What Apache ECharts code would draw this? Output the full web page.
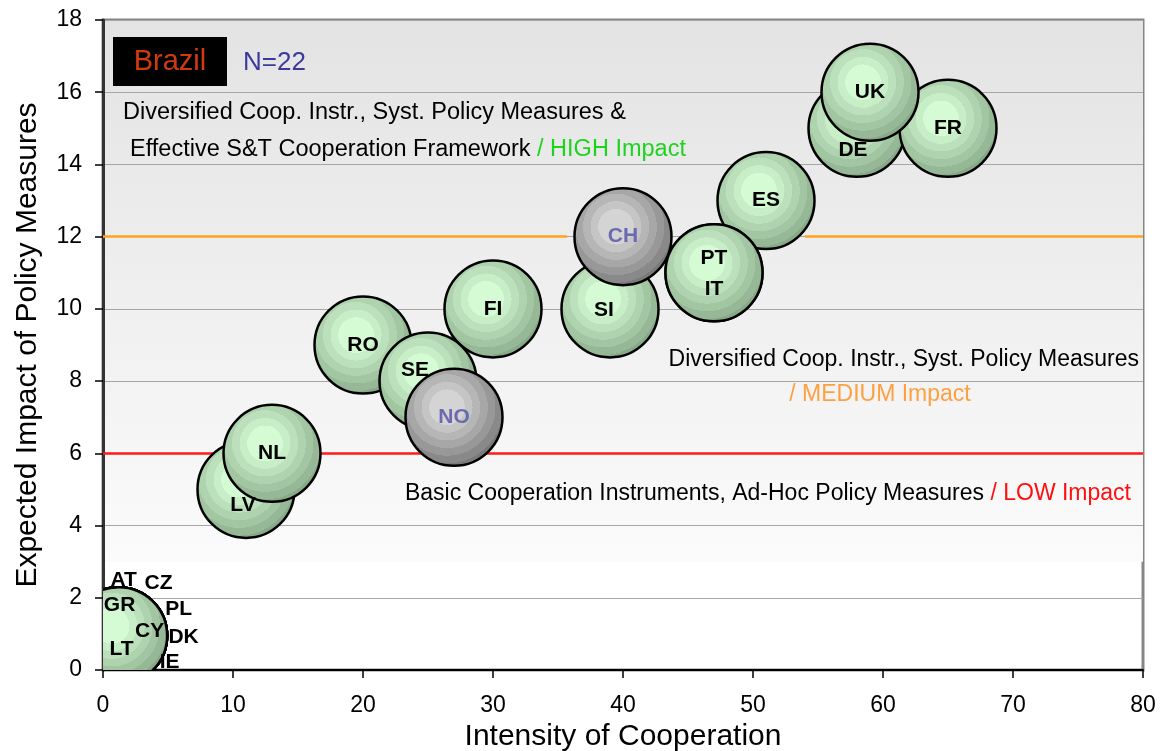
<!DOCTYPE html>
<html>
<head>
<meta charset="utf-8">
<script src="https://cdn.jsdelivr.net/npm/echarts@6/dist/echarts.min.js"></script>
<style>
  html, body { margin: 0; padding: 0; background: #fff; }
  #chart { width: 1163px; height: 751px; }
</style>
</head>
<body>
<div id="chart"></div>
<script>
// countries, in drawing order (later ones sit on top)
var countries = ['LV', 'NL', 'RO', 'FI', 'SE', 'NO', 'SI', 'CH', 'ES', 'PT', 'IT', 'DE', 'FR', 'UK',
                 'AT', 'CZ', 'GR', 'PL', 'CY', 'DK', 'LT', 'IE'];
var intensity = [11, 13, 20, 30, 25, 27, 39, 40, 51, 47, 47, 58, 65, 59,
                 1.2, 1.2, 1.2, 1.2, 1.2, 1.2, 1.2, 1.2];
var impact = [5, 6, 9, 10, 8, 7, 10, 12, 13, 11, 11, 15, 15, 16,
              0.95, 0.95, 0.95, 0.95, 0.95, 0.95, 0.95, 0.95];
var nonEU = ['CH', 'NO'];

var xTicks = [0, 10, 20, 30, 40, 50, 60, 70, 80];
var yTicks = [0, 2, 4, 6, 8, 10, 12, 14, 16, 18];

var highLevel = 12;
var lowLevel = 6;
var highLineParts = [[0, 35.7], [54, 80]];
var shadedFrom = 3;

// label nudges (px) so the names don't sit on each other
var labelShift = {
  DE: [-4, 22], PT: [0, -15], IT: [0, 16], SE: [-13, -11], LV: [-3, 16], SI: [-6, 1],
  AT: [5, -55], CZ: [40, -52], GR: [1, -30], PL: [60, -26],
  CY: [31, -4], DK: [65, 2], LT: [3, 14], IE: [51, 27]
};

function bands(light, dark, n) {
  // stepped radial fill like the old office bubble style
  var a = echarts.color.parse(light), b = echarts.color.parse(dark);
  var stops = [];
  for (var i = 0; i < n; i++) {
    var t = i / (n - 1);
    var c = 'rgb(' + Math.round(a[0] + (b[0] - a[0]) * t) + ',' +
      Math.round(a[1] + (b[1] - a[1]) * t) + ',' + Math.round(a[2] + (b[2] - a[2]) * t) + ')';
    var o0 = i === 0 ? 0 : 0.28 + (i - 1) * 0.72 / (n - 1);
    var o1 = 0.28 + i * 0.72 / (n - 1);
    stops.push({ offset: o0, color: c }, { offset: Math.min(o1, 1), color: c });
  }
  return new echarts.graphic.RadialGradient(0.43, 0.4, 0.64, stops);
}

var greenFill = bands('#d4fbd4', '#89aa89', 7);
var grayFill = bands('#d4d4d4', '#7a7a7a', 7);

var chart = echarts.init(document.getElementById('chart'));

var txt = 'Liberation Sans, Arial, sans-serif';

chart.setOption({
  animation: false,
  backgroundColor: '#fff',
  grid: {
    left: 103, right: 20, top: 20, bottom: 81, outerBoundsMode: 'none', containLabel: false,
    show: true, borderColor: '#858585', borderWidth: 3, backgroundColor: '#fff'
  },
  xAxis: {
    type: 'value', min: xTicks[0], max: xTicks[xTicks.length - 1], interval: 10, z: 2,
    name: 'Intensity of Cooperation', nameLocation: 'middle', nameGap: 49,
    nameTextStyle: { fontFamily: txt, fontSize: 30, color: '#000' },
    axisLine: { lineStyle: { color: '#000', width: 2 } },
    axisTick: { length: 8, lineStyle: { color: '#000', width: 1.5 } },
    axisLabel: { margin: 24, fontFamily: txt, fontSize: 23, color: '#000' },
    splitLine: { show: false }
  },
  yAxis: {
    type: 'value', min: yTicks[0], max: yTicks[yTicks.length - 1], interval: 2, z: 2,
    name: 'Expected Impact of Policy Measures', nameLocation: 'middle', nameGap: 60,
    nameTextStyle: { fontFamily: txt, fontSize: 30, color: '#000' },
    axisLine: { lineStyle: { color: '#333', width: 3 } },
    axisTick: { length: 8, lineStyle: { color: '#000', width: 1.5 } },
    axisLabel: { margin: 21, fontFamily: txt, fontSize: 23, color: '#000' },
    splitLine: { lineStyle: { color: '#a6a6a6', width: 1.2 } }
  },
  graphic: [
    { type: 'rect', left: 113, top: 37, z: 20, shape: { width: 114, height: 49 }, style: { fill: '#000' } },
    { type: 'text', x: 170, y: 62, z: 21,
      style: { text: 'Brazil', fill: '#d03a0e', font: '29px Liberation Sans', align: 'center', verticalAlign: 'middle' } },
    { type: 'text', x: 243, y: 63, z: 21,
      style: { text: 'N=22', fill: '#3a3a9e', font: '26px Liberation Sans', verticalAlign: 'middle' } },
    { type: 'text', x: 123, y: 113, z: 21,
      style: { text: 'Diversified Coop. Instr., Syst. Policy Measures &', fill: '#000',
        font: '23.5px Liberation Sans', verticalAlign: 'middle' } },
    { type: 'text', x: 130, y: 150, z: 21,
      style: { text: '{k|Effective S&T Cooperation Framework }{g|/ HIGH Impact}', verticalAlign: 'middle',
        rich: { k: { fill: '#000', fontSize: 23.5, fontFamily: 'Liberation Sans' },
                g: { fill: '#1ed21e', fontSize: 23.5, fontFamily: 'Liberation Sans' } } } },
    { type: 'text', x: 1139, y: 360, z: 21,
      style: { text: 'Diversified Coop. Instr., Syst. Policy Measures', fill: '#000',
        font: '23px Liberation Sans', align: 'right', verticalAlign: 'middle' } },
    { type: 'text', x: 880, y: 395, z: 21,
      style: { text: '/ MEDIUM Impact', fill: '#ffa040',
        font: '23px Liberation Sans', align: 'center', verticalAlign: 'middle' } },
    { type: 'text', x: 1131, y: 494, z: 21,
      style: { text: '{k|Basic Cooperation Instruments, Ad-Hoc Policy Measures }{r|/ LOW Impact}',
        align: 'right', verticalAlign: 'middle',
        rich: { k: { fill: '#000', fontSize: 23, fontFamily: 'Liberation Sans' },
                r: { fill: '#ff1010', fontSize: 23, fontFamily: 'Liberation Sans' } } } }
  ],
  series: [
    {
      // shaded upper part of the plot
      type: 'scatter', data: [], z: 1, silent: true,
      markArea: {
        silent: true, z: 1,
        itemStyle: {
          color: new echarts.graphic.LinearGradient(0, 0, 0, 1, [
            { offset: 0, color: '#e3e3e3' }, { offset: 1, color: '#fbfbfb' }
          ])
        },
        data: [[{ coord: [xTicks[0], shadedFrom] }, { coord: [xTicks[xTicks.length - 1], yTicks[yTicks.length - 1]] }]]
      }
    },
    {
      type: 'line', data: [], z: 3, silent: true,
      markLine: {
        silent: true, symbol: 'none', label: { show: false },
        data: highLineParts.map(function (p) {
          return [{ coord: [p[0], highLevel], lineStyle: { color: '#ffa31a', width: 2.5, type: 'solid' } },
                  { coord: [p[1], highLevel] }];
        }).concat([[
          { coord: [xTicks[0], lowLevel], lineStyle: { color: '#ff1a1a', width: 2.5, type: 'solid' } },
          { coord: [xTicks[xTicks.length - 1], lowLevel] }
        ]])
      }
    },
    {
      type: 'custom', z: 5, clip: true, silent: true,
      data: countries.map(function (c, i) { return [intensity[i], impact[i]]; }),
      renderItem: function (params, api) {
        var c = countries[params.dataIndex];
        var gray = nonEU.indexOf(c) >= 0;
        var p = api.coord([api.value(0), api.value(1)]);
        return {
          type: 'circle',
          shape: { cx: p[0], cy: p[1], r: 48.5 },
          style: { fill: gray ? grayFill : greenFill, stroke: '#000', lineWidth: 2.5 },
          textContent: {
            style: {
              text: c, fill: gray ? '#6a6aae' : '#000',
              font: 'bold 21px Liberation Sans', align: 'center', verticalAlign: 'middle'
            }
          },
          textConfig: { position: 'inside', offset: labelShift[c] || [0, 0] }
        };
      }
    }
  ]
});
</script>
</body>
</html>
